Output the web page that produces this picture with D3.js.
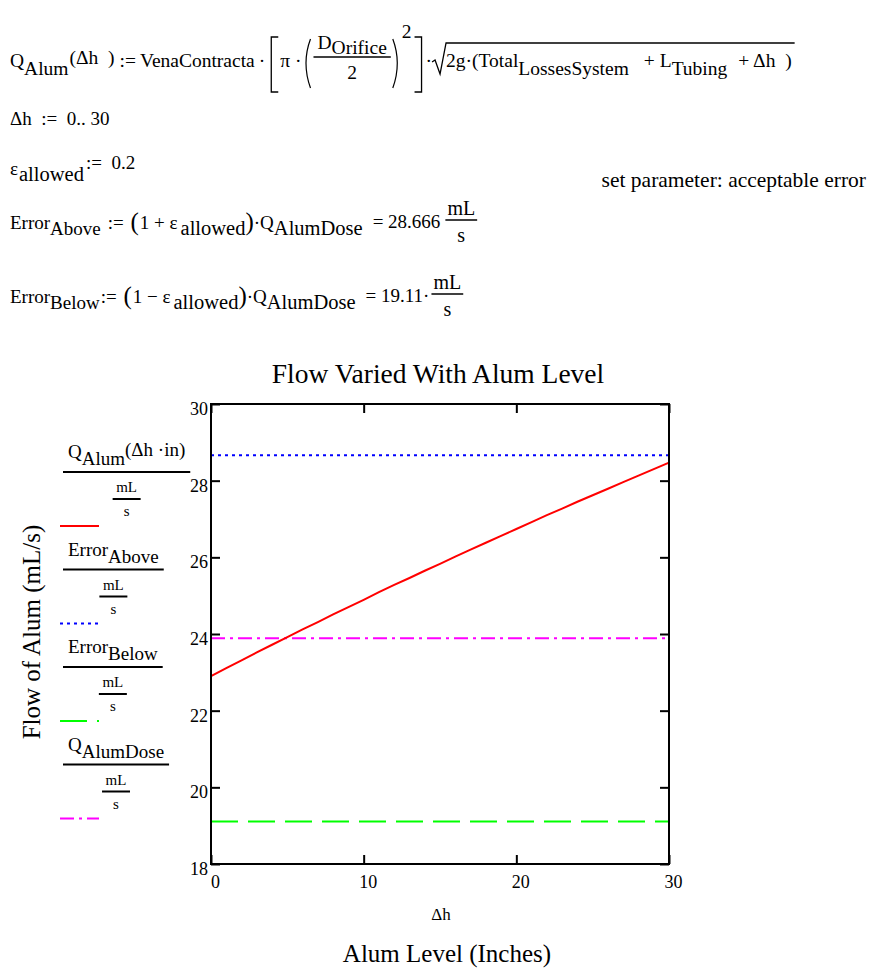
<!DOCTYPE html>
<html>
<head>
<meta charset="utf-8">
<script src="https://cdn.jsdelivr.net/npm/d3@7/dist/d3.min.js"></script>
<style>
	body { margin: 0; background: #fff; }
	svg text { font-family: "Liberation Serif", "Times New Roman", serif; fill: #000; }
</style>
</head>
<body>
<div id="sheet"></div>
<script>

var deltaH = [0, 1, 2, 3, 4, 5, 6, 7, 8, 9, 10, 11, 12, 13, 14, 15, 16, 17, 18, 19, 20, 21, 22, 23, 24, 25, 26, 27, 28, 29, 30];
var qAlum = [22.90, 23.11, 23.31, 23.52, 23.72, 23.92, 24.12, 24.31, 24.51, 24.70, 24.89, 25.09, 25.28, 25.46, 25.65, 25.83,
	26.02, 26.20, 26.38, 26.56, 26.74, 26.92, 27.10, 27.27, 27.45, 27.62, 27.79, 27.96, 28.13, 28.30, 28.47];
var errorAbove = 28.666;
var errorBelow = 19.11;
var qAlumDose = 23.888;
var xTicks = [0, 10, 20, 30];
var yTicks = [18, 20, 22, 24, 26, 28, 30];
var xDomain = [0, 30];
var yDomain = [18, 30];

var FS = 19, SUB = 7;
var SERIF = "'Liberation Serif', 'Times New Roman', serif";

var svg = d3.select("#sheet").append("svg")
	.attr("width", 878)
	.attr("height", 979)
	.attr("font-family", SERIF);

// Lay out a row of math pieces left to right, measuring each one
function mathRow(g, x, y, items) {
	var cx = x;
	items.forEach(function(it) {
		if (it.draw) { cx += it.draw(g, cx, y); return; }
		var t = g.append("text")
			.attr("x", cx)
			.attr("y", y + (it.dy || 0))
			.style("font-family", SERIF)
			.style("font-size", (it.fs || FS) + "px")
			.style("white-space", "pre")
			.text(it.t);
		cx += t.node().getComputedTextLength() + (it.gap || 0);
	});
	return cx;
}

function bracket(side) {
	return { draw: function(g, x, y) {
		var a = side == "l" ? x + 10 : x + 1, b = side == "l" ? x + 3 : x + 8;
		g.append("path")
			.attr("d", "M" + a + "," + (y - 30) + "H" + b + "V" + (y + 25) + "H" + a)
			.attr("fill", "none").attr("stroke", "#000").attr("stroke-width", 1.3);
		return 12;
	}};
}

function paren(side) {
	return { draw: function(g, x, y) {
		var d = side == "l"
			? "M" + (x + 8) + "," + (y - 28) + "Q" + (x - 1) + "," + (y - 4) + " " + (x + 8) + "," + (y + 21)
			: "M" + (x + 2) + "," + (y - 28) + "Q" + (x + 11) + "," + (y - 4) + " " + (x + 2) + "," + (y + 21);
		g.append("path").attr("d", d)
			.attr("fill", "none").attr("stroke", "#000").attr("stroke-width", 1.2);
		return 11;
	}};
}

// Simple fraction: numerator pieces over a line over a denominator
function fraction(num, den, opts) {
	return { draw: function(g, x, y) {
		var fs = opts.fs || FS;
		var ng = g.append("g");
		var w = mathRow(ng, 0, 0, num);
		var dt = g.append("text").style("font-family", SERIF).style("font-size", fs + "px").text(den);
		var dw = dt.node().getComputedTextLength();
		var W = Math.max(w, dw) + opts.pad * 2;
		ng.attr("transform", "translate(" + (x + (W - w) / 2) + "," + (y + opts.num) + ")");
		dt.attr("x", x + (W - dw) / 2).attr("y", y + opts.den);
		g.append("line")
			.attr("x1", x).attr("x2", x + W)
			.attr("y1", y + opts.line).attr("y2", y + opts.line)
			.attr("stroke", "#000").attr("stroke-width", 1.3);
		return W + (opts.gap || 0);
	}};
}

// ---- Worksheet equations ----
var sheet = svg.append("g");

var sqrtStart, Y1 = 67, F1 = 19.5;
var eq1 = mathRow(sheet, 10, Y1, [
	{ t: "Q", fs: F1 }, { t: "Alum", dy: 8, gap: 1, fs: F1 }, { t: "(Δh  )", dy: -3, gap: 5, fs: F1 }, { t: ":=", gap: 4, fs: F1 },
	{ t: "VenaContracta", gap: 4, fs: F1 }, { t: "·", gap: 3, fs: F1 },
	bracket("l"), { t: "π ·", gap: 1, fs: F1 }, paren("l"),
	fraction([{ t: "D", fs: F1 }, { t: "Orifice", dy: 5, fs: F1 }], "2", { num: -18, line: -10, den: 12, pad: 4, fs: F1 }),
	paren("r"), { t: "2", dy: -29, fs: F1, gap: 2 }, bracket("r"), { t: "·", fs: F1 },
	{ draw: function(g, x) { sqrtStart = x; return 14; } },
	{ t: "2g·(Total", fs: F1 }, { t: "LossesSystem", dy: 8, gap: 15, fs: F1 }, { t: "+ L", fs: F1 },
	{ t: "Tubing", dy: 8, gap: 11, fs: F1 }, { t: "+ Δh  )", fs: F1 }
]);
// radical sign with its bar over the whole sum
sheet.append("path")
	.attr("d", "M" + sqrtStart + "," + (Y1 - 5) + "l3,-2l5,14l6,-31H" + (eq1 + 3))
	.attr("fill", "none").attr("stroke", "#000").attr("stroke-width", 1.3);

mathRow(sheet, 10, 125, [{ t: "Δh  :=  0.. 30" }]);

mathRow(sheet, 10, 175, [{ t: "ε", gap: 1 }, { t: "allowed", dy: 6, fs: 20.5, gap: 2 }, { t: ":=  0.2", dy: -6 }]);

sheet.append("text")
	.attr("x", 866).attr("y", 187)
	.attr("text-anchor", "end")
	.style("font-family", SERIF)
	.style("font-size", "21.5px")
	.text("set parameter: acceptable error");

var unitFrac = { num: -14, line: -9, den: 13, pad: 2, fs: 20 };

mathRow(sheet, 10, 229, [
	{ t: "Error" }, { t: "Above", dy: 6, gap: 7 }, { t: ":= ", gap: 2 }, { t: "(", fs: 25, dy: 1, gap: 1 },
	{ t: "1 + ε", gap: 3 }, { t: "allowed", dy: 6, fs: 20.5 }, { t: ")", fs: 25, dy: 1 }, { t: "·Q" },
	{ t: "AlumDose", dy: 6, fs: 20.5, gap: 10 }, { t: "= 28.666", dy: -1, gap: 5 },
	fraction([{ t: "mL", fs: 20 }], "s", unitFrac)
]);

mathRow(sheet, 10, 303, [
	{ t: "Error" }, { t: "Below", dy: 6, gap: 1 }, { t: ":= ", gap: 2 }, { t: "(", fs: 25, dy: 1, gap: 1 },
	{ t: "1 − ε", gap: 3 }, { t: "allowed", dy: 6, fs: 20.5 }, { t: ")", fs: 25, dy: 1 }, { t: "·Q" },
	{ t: "AlumDose", dy: 6, fs: 20.5, gap: 10 }, { t: "= 19.11·", dy: -1, gap: 2 },
	fraction([{ t: "mL", fs: 20 }], "s", unitFrac)
]);

// ---- Plot ----
var plot = { left: 211, right: 669, top: 404, bottom: 864 };

var xScale = d3.scaleLinear().domain(xDomain).range([plot.left, plot.right]);
var yScale = d3.scaleLinear().domain(yDomain).range([plot.bottom, plot.top]);

var chart = svg.append("g");

chart.append("text")
	.attr("x", (plot.left + plot.right) / 2 - 2)
	.attr("y", 383)
	.attr("text-anchor", "middle")
	.style("font-size", "27.5px")
	.text("Flow Varied With Alum Level");

// constant reference lines, drawn across the whole Δh range
var refLines = [
	{ value: errorAbove, color: "#0000ff", dash: "3,4" },
	{ value: errorBelow, color: "#00ff00", dash: "27,10" },
	{ value: qAlumDose, color: "#ff00ff", dash: "14,5,3,5" }
];

var line = d3.line()
	.x(function(d) { return xScale(d[0]); })
	.y(function(d) { return yScale(d[1]); });

refLines.forEach(function(r) {
	chart.append("path")
		.datum(xDomain.map(function(h) { return [h, r.value]; }))
		.attr("d", line)
		.attr("fill", "none")
		.attr("stroke", r.color)
		.attr("stroke-width", 2)
		.attr("stroke-dasharray", r.dash);
});

chart.append("path")
	.datum(deltaH.map(function(h, i) { return [h, qAlum[i]]; }))
	.attr("d", line)
	.attr("fill", "none")
	.attr("stroke", "#ff0000")
	.attr("stroke-width", 2);

// Axes: ticks point inward on all four sides
function styleAxis(g) {
	g.attr("font-family", SERIF).attr("font-size", 18);
	g.select(".domain").remove();
	g.selectAll(".tick line").attr("stroke", "#000").attr("stroke-width", 2);
}

chart.append("g")
	.attr("transform", "translate(" + plot.left + ",0)")
	.call(d3.axisLeft(yScale).tickValues(yTicks).tickSize(-9).tickPadding(3))
	.call(styleAxis)
	.selectAll(".tick text").attr("dy", 10.5);

chart.append("g")
	.attr("transform", "translate(" + plot.right + ",0)")
	.call(d3.axisRight(yScale).tickValues(yTicks).tickSize(-9).tickFormat(""))
	.call(styleAxis);

chart.append("g")
	.attr("transform", "translate(0," + plot.bottom + ")")
	.call(d3.axisBottom(xScale).tickValues(xTicks).tickSize(-9))
	.call(styleAxis)
	.selectAll(".tick text").attr("y", 24).attr("dy", null).attr("dx", 4);

chart.append("g")
	.attr("transform", "translate(0," + plot.top + ")")
	.call(d3.axisTop(xScale).tickValues(xTicks).tickSize(-9).tickFormat(""))
	.call(styleAxis);

chart.append("rect")
	.attr("x", plot.left).attr("y", plot.top)
	.attr("width", plot.right - plot.left).attr("height", plot.bottom - plot.top)
	.attr("fill", "none").attr("stroke", "#000").attr("stroke-width", 2);

// axis titles
chart.append("text")
	.attr("x", 441).attr("y", 920)
	.attr("text-anchor", "middle")
	.style("font-size", "17px")
	.text("Δh");

chart.append("text")
	.attr("x", 447).attr("y", 962)
	.attr("text-anchor", "middle")
	.style("font-size", "25px")
	.text("Alum Level (Inches)");

chart.append("text")
	.attr("transform", "translate(40,632) rotate(-90)")
	.attr("text-anchor", "middle")
	.style("font-size", "25px")
	.text("Flow of Alum (mL/s)");

// ---- Legend: trace name over mL/s, then a sample of the line ----
var legendItems = [
	{ name: [{ t: "Q" }, { t: "Alum", dy: SUB }, { t: "(Δh ·in)", dy: -2 }], color: "#ff0000", dash: null },
	{ name: [{ t: "Error" }, { t: "Above", dy: SUB }], color: "#0000ff", dash: "3,4" },
	{ name: [{ t: "Error" }, { t: "Below", dy: SUB }], color: "#00ff00", dash: "27,10" },
	{ name: [{ t: "Q" }, { t: "AlumDose", dy: SUB }], color: "#ff00ff", dash: "14,5,3,5" }
];

legendItems.forEach(function(d, i) {
	var top = 458 + i * 97.5;
	var g = chart.append("g");
	var ng = g.append("g");
	var w = mathRow(ng, 0, 0, d.name);
	var W = w + 10;
	ng.attr("transform", "translate(" + (63 + 5) + "," + top + ")");
	g.append("line")
		.attr("x1", 63).attr("x2", 63 + W)
		.attr("y1", top + 14).attr("y2", top + 14)
		.attr("stroke", "#000").attr("stroke-width", 2);
	var cx = 63 + W / 2;
	g.append("text").attr("x", cx).attr("y", top + 34)
		.attr("text-anchor", "middle").style("font-size", "15px").text("mL");
	g.append("line")
		.attr("x1", cx - 14).attr("x2", cx + 14)
		.attr("y1", top + 41).attr("y2", top + 41)
		.attr("stroke", "#000").attr("stroke-width", 2);
	g.append("text").attr("x", cx).attr("y", top + 58)
		.attr("text-anchor", "middle").style("font-size", "15px").text("s");
	g.append("line")
		.attr("x1", 60).attr("x2", 99)
		.attr("y1", top + 68).attr("y2", top + 68)
		.attr("stroke", d.color).attr("stroke-width", 2)
		.attr("stroke-dasharray", d.dash);
});

// make sure every label uses the serif face
svg.selectAll("text").style("font-family", SERIF);

</script>
</body>
</html>
